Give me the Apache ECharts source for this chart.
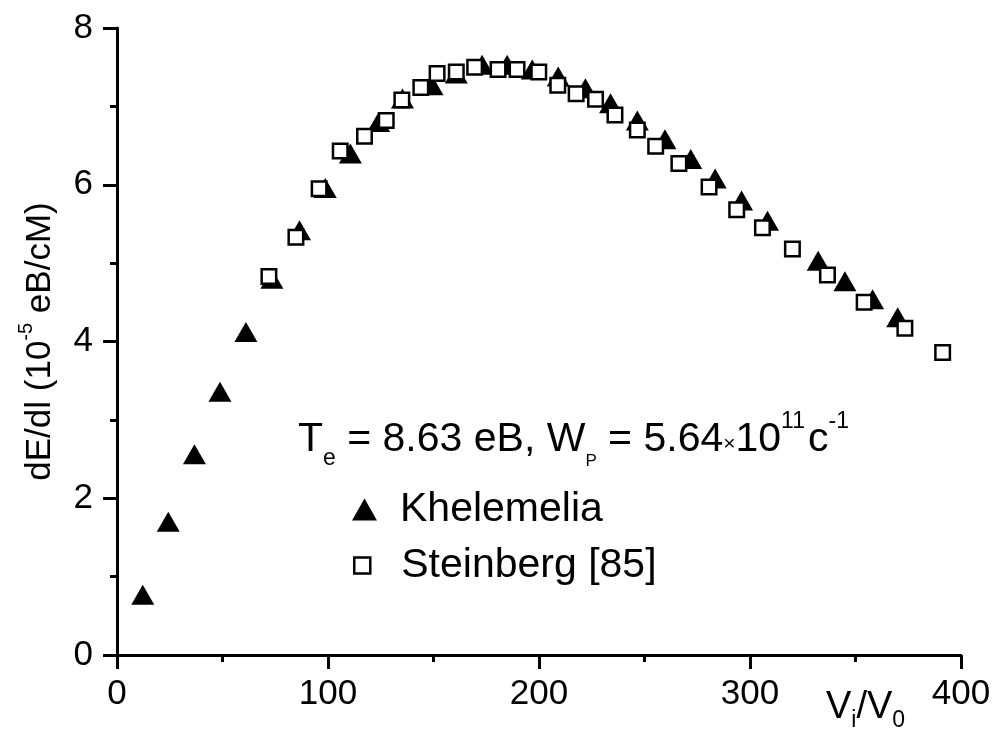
<!DOCTYPE html>
<html>
<head>
<meta charset="utf-8">
<script src="https://cdn.jsdelivr.net/npm/echarts@6/dist/echarts.min.js"></script>
<style>
  html, body { margin: 0; padding: 0; background: #fff; }
  #chart { width: 995px; height: 731px; }
</style>
</head>
<body>
<div id="chart"></div>
<script>
// Khelemelia measurements (filled triangles)
const khelemeliaX = [12.2, 24.3, 36.7, 48.8, 61.1, 73.4, 86.5, 98.7, 110.6, 124.0, 135.3, 149.3, 160.8, 173.0, 184.9, 196.8, 209.1, 222.0, 233.9, 246.6, 259.7, 271.9, 283.5, 296.0, 308.3, 332.3, 345.0, 358.1, 370.0];
const khelemeliaY = [0.77, 1.70, 2.56, 3.36, 4.12, 4.80, 5.42, 5.96, 6.40, 6.80, 7.10, 7.27, 7.42, 7.53, 7.53, 7.47, 7.38, 7.23, 7.04, 6.82, 6.58, 6.33, 6.08, 5.80, 5.54, 5.03, 4.77, 4.54, 4.31];

// Steinberg [85] measurements (open squares)
const steinbergX = [72.0, 84.8, 95.8, 105.8, 117.3, 127.6, 135.0, 144.0, 151.7, 160.8, 169.5, 180.6, 189.6, 199.9, 208.9, 217.6, 226.8, 236.0, 246.6, 255.3, 266.3, 280.6, 293.7, 305.9, 320.1, 336.7, 354.1, 373.4, 391.3];
const steinbergY = [4.83, 5.33, 5.95, 6.43, 6.62, 6.82, 7.08, 7.24, 7.42, 7.44, 7.50, 7.47, 7.47, 7.44, 7.27, 7.16, 7.09, 6.89, 6.70, 6.49, 6.27, 5.97, 5.68, 5.45, 5.18, 4.85, 4.50, 4.17, 3.86];

const seriesNames = ['Khelemelia', 'Steinberg [85]'];
const xTicks = [0, 100, 200, 300, 400];
const yTicks = [0, 2, 4, 6, 8];

const FONT = '"Liberation Sans", Arial, Helvetica, sans-serif';

function pairs(xs, ys) {
  return xs.map((x, i) => [x, ys[i]]);
}

const chart = echarts.init(document.getElementById('chart'), null, { renderer: 'canvas' });

const axisCommon = {
  axisLine: { show: true, onZero: false, lineStyle: { color: '#000', width: 3 } },
  axisTick: { show: true, inside: false, length: 14, lineStyle: { color: '#000', width: 3 } },
  minorTick: { show: true, splitNumber: 2, length: 7, lineStyle: { color: '#000', width: 3 } },
  splitLine: { show: false },
  minorSplitLine: { show: false }
};

chart.setOption({
  backgroundColor: '#fff',
  animation: false,
  grid: { left: 117, right: 34, top: 28, bottom: 76, containLabel: false },
  xAxis: Object.assign({
    type: 'value',
    min: xTicks[0],
    max: xTicks[xTicks.length - 1],
    interval: 100,
    axisLabel: { color: '#000', fontSize: 35, fontFamily: FONT, margin: 22 }
  }, axisCommon),
  yAxis: Object.assign({
    type: 'value',
    min: yTicks[0],
    max: yTicks[yTicks.length - 1],
    interval: 2,
    name: '{a|dE/dl (10}{s|-5}{a| eB/cM)}',
    nameLocation: 'middle',
    nameRotate: 90,
    nameGap: 53,
    nameTextStyle: {
      color: '#000',
      fontFamily: FONT,
      rich: {
        a: { fontSize: 35, fontFamily: FONT, color: '#000', lineHeight: 48 },
        s: { fontSize: 20, fontFamily: FONT, color: '#000', lineHeight: 20, verticalAlign: 'top' }
      }
    },
    axisLabel: { color: '#000', fontSize: 35, fontFamily: FONT, margin: 24 }
  }, axisCommon),
  legend: [
    {
      data: [{ name: seriesNames[0], icon: 'triangle' }],
      orient: 'vertical',
      left: 352,
      top: 489,
      padding: 0,
      itemWidth: 25,
      itemHeight: 22,
      itemStyle: { color: '#000', borderWidth: 0 },
      textStyle: { color: '#000', fontSize: 41, fontFamily: FONT, padding: [0, 0, 0, 18] }
    },
    {
      data: [{ name: seriesNames[1], icon: 'rect' }],
      orient: 'vertical',
      left: 353,
      top: 545,
      padding: 0,
      itemWidth: 16,
      itemHeight: 16,
      itemStyle: { color: '#fff', borderColor: '#000', borderWidth: 2.5 },
      textStyle: { color: '#000', fontSize: 41, fontFamily: FONT, padding: [0, 0, 0, 26] }
    }
  ],
  graphic: [
    {
      type: 'text',
      left: 298,
      top: 410,
      style: {
        text: '{m|T}{sub|e}{m| = 8.63 eB, W}{subp|P}{m| = 5.64}{x|×}{m|10}{sup|11}{m|c}{sup|-1}',
        fill: '#000',
        rich: {
          m: { fontSize: 41, fontFamily: FONT, fill: '#000', lineHeight: 60 },
          sub: { fontSize: 23, fontFamily: FONT, fill: '#000', lineHeight: 24, verticalAlign: 'bottom' },
          subp: { fontSize: 17, fontFamily: FONT, fill: '#000', lineHeight: 24, verticalAlign: 'bottom' },
          x: { fontSize: 21, fontFamily: FONT, fill: '#000', lineHeight: 21, padding: [8, 0, 0, 0] },
          sup: { fontSize: 23, fontFamily: FONT, fill: '#000', lineHeight: 23, verticalAlign: 'top', padding: [0, 3, 0, 0] }
        }
      }
    },
    {
      type: 'text',
      left: 826,
      top: 689,
      style: {
        text: '{m|V}{sub|i}{m|/V}{sub|0}',
        fill: '#000',
        rich: {
          m: { fontSize: 38, fontFamily: FONT, fill: '#000', lineHeight: 48 },
          sub: { fontSize: 23, fontFamily: FONT, fill: '#000', lineHeight: 22, verticalAlign: 'bottom' }
        }
      }
    }
  ],
  series: [
    {
      name: seriesNames[0],
      type: 'scatter',
      symbol: 'triangle',
      symbolSize: [23, 20],
      itemStyle: { color: '#000', opacity: 1 },
      data: pairs(khelemeliaX, khelemeliaY),
      z: 2
    },
    {
      name: seriesNames[1],
      type: 'scatter',
      symbol: 'rect',
      symbolSize: 14.5,
      itemStyle: { color: '#fff', borderColor: '#000', borderWidth: 2.5, opacity: 1 },
      data: pairs(steinbergX, steinbergY),
      z: 3
    }
  ]
});
</script>
</body>
</html>
